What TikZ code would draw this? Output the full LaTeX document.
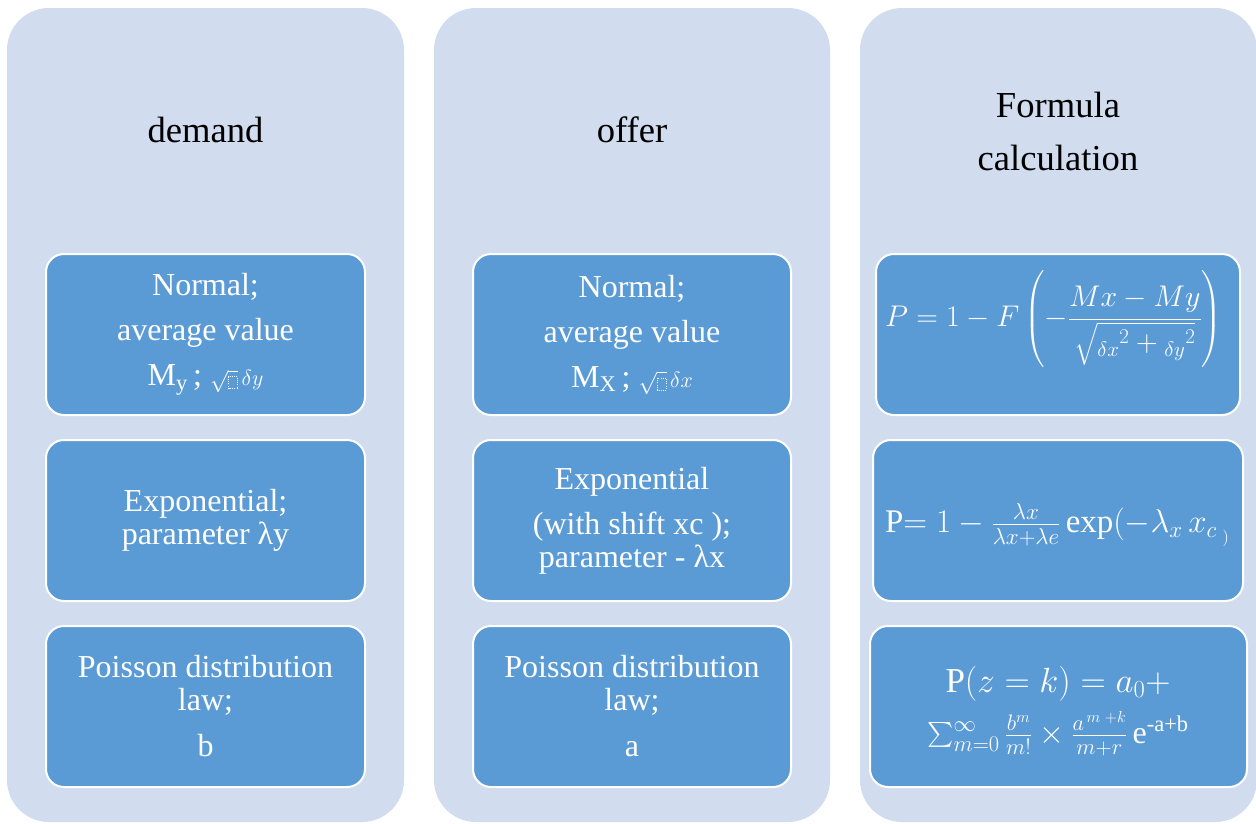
\RequirePackage{fix-cm}
\documentclass[tikz,border=0pt]{standalone}
\usepackage{amsmath}
\usepackage{graphicx}
\usepackage{fontspec}
\setmainfont{Liberation Serif}
\definecolor{colbg}{HTML}{D1DCEE}
\definecolor{boxbg}{HTML}{5B9BD5}
\newcommand{\dotbox}{\tikz[baseline=0pt]\draw[white,sharp corners,line width=0.7pt,dash pattern=on 1pt off 1.2pt] (0pt,-3pt) rectangle (9pt,9pt);}
\begin{document}
\begin{tikzpicture}[x=1pt,y=-1pt,
  column/.style={fill=colbg, draw=none, rounded corners=42pt, inner sep=0pt, outer sep=0pt},
  cell/.style={fill=boxbg, draw=white, line width=2pt, rounded corners=18pt, inner sep=0pt,
    text=white, align=center, font=\fontsize{32}{33}\selectfont},
  head/.style={text=black, align=center, font=\fontsize{36.6}{53}\selectfont, inner sep=0pt},
  ftext/.style={text=white, align=center, inner sep=0pt, font=\fontsize{32}{40}\selectfont}]
\useasboundingbox (0,0) rectangle (1256,823);
% columns
\node[column, minimum width=397pt, minimum height=814pt] (c1) at (205.5,415) {};
\node[column, minimum width=396pt, minimum height=814pt] (c2) at (632,415) {};
\node[column, minimum width=397pt, minimum height=814pt] (c3) at (1058.5,415) {};
% headers
\node[head] (h1) at (205.5,130) {demand};
\node[head] (h2) at (632,130) {offer};
\node[head] (h3) at (1058,131) {Formula\\calculation};
% column 1
\node[cell, minimum width=319pt, minimum height=161pt] (d1) at (205.5,334.5)
  {Normal;\\[12pt] average value\\[12pt] M\textsubscript{y}\,; {\fontsize{22}{22}\selectfont$\sqrt{\dotbox}\,\delta y$}};
\node[cell, minimum width=319pt, minimum height=161pt] (d2) at (205.5,520.5)
  {Exponential;\\ parameter λy};
\node[cell, minimum width=319pt, minimum height=161pt] (d3) at (205.5,706.5)
  {Poisson distribution\\ law;\\[13pt] b};
% column 2
\node[cell, minimum width=318pt, minimum height=161pt] (o1) at (632,334.5)
  {Normal;\\[12pt] average value\\[12pt] M\textsubscript{X}\,; {\fontsize{22}{22}\selectfont$\sqrt{\dotbox}\,\delta x$}};
\node[cell, minimum width=318pt, minimum height=161pt] (o2) at (632,520.5)
  {Exponential\\[12pt] (with shift xc );\\ parameter - λx};
\node[cell, minimum width=318pt, minimum height=161pt] (o3) at (632,706.5)
  {Poisson distribution\\ law;\\[13pt] a};
% column 3
\node[cell, minimum width=364pt, minimum height=161pt] (f1) at (1058,334.5) {};
\node[cell, minimum width=370pt, minimum height=161pt] (f2) at (1058,520.5) {};
\node[cell, minimum width=377pt, minimum height=161pt] (f3) at (1058.5,706.5) {};
\node[ftext] (f1t) at (1053.5,319)
  {\resizebox{337pt}{!}{$\displaystyle P = 1 - F\left(-\frac{Mx - My}{\sqrt{{}_{\delta x}{}^{2} + {}_{\delta y}{}^{2}}}\right)$}};
\node[ftext] (f2t) at (1057.5,525)
  {\resizebox{345pt}{!}{P$=1-\frac{\lambda x}{\lambda x+\lambda e}\,$exp$(-\lambda_x\, x_{c\;{}_)}$}};
\node[ftext] (f3t) at (1058,711)
  {\resizebox{225pt}{!}{P$(z=k)=a_0+$}\\[9pt]
   $\textstyle\sum_{m=0}^{\infty}\tfrac{b^m}{m!}\times\tfrac{a^{\,m\;+k}}{m+r}$\,e\textsuperscript{-a+b}};
\end{tikzpicture}
\end{document}
